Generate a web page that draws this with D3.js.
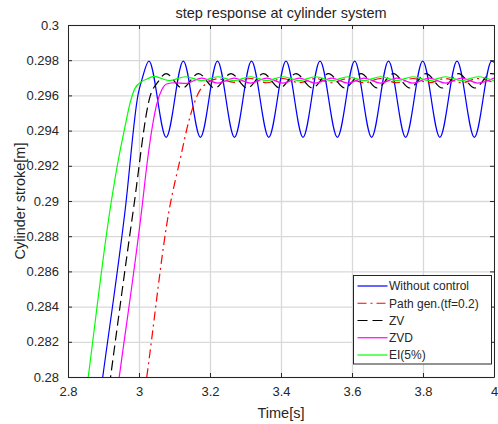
<!DOCTYPE html>
<html>
<head>
<meta charset="utf-8">
<script src="https://cdn.jsdelivr.net/npm/d3@7"></script>
<style>
  body { margin: 0; background: #fff; }
  svg text { font-family: "Liberation Sans", Arial, sans-serif; fill: #262626; }
</style>
</head>
<body>
<div id="chart"></div>
<script>
var width = 498;
var height = 424;
var margin = {left: 68, right: 4, top: 25, bottom: 47};

// tick values + labels
var xTicks = [2.8, 3, 3.2, 3.4, 3.6, 3.8, 4];
var xTickLabels = ["2.8", "3", "3.2", "3.4", "3.6", "3.8", "4"];
var yTicks = [0.28, 0.282, 0.284, 0.286, 0.288, 0.29, 0.292, 0.294, 0.296, 0.298, 0.3];
var yTickLabels = ["0.28", "0.282", "0.284", "0.286", "0.288", "0.29", "0.292", "0.294", "0.296", "0.298", "0.3"];

// series, [time, stroke]
var withoutControl = [[2.880,0.27735],[2.898,0.28002],[2.961,0.28949],[2.998,0.29612],[3.008,0.29688],[3.028,0.29795],
  [3.0765,0.29362],[3.1248,0.29795],[3.1730,0.29362],[3.2211,0.29795],[3.2690,0.29362],[3.3169,0.29795],
  [3.3655,0.29362],[3.4141,0.29795],[3.4620,0.29362],[3.5099,0.29795],[3.5588,0.29362],[3.6076,0.29795],
  [3.6552,0.29362],[3.7028,0.29795],[3.7510,0.29362],[3.7992,0.29795],[3.8475,0.29362],[3.8958,0.29795],
  [3.9447,0.29362],[3.9935,0.29795],[4.0,0.29789]];
var pathGen = [[3.000,0.27679],[3.022,0.28002],[3.085,0.28949],[3.1155,0.29233],[3.1437,0.29479],[3.167,0.29612],
  [3.1907,0.29669],[3.2225,0.29694],[3.2683,0.29674],[3.3141,0.29696],[3.3599,0.29672],[3.4056,0.29696],
  [3.4514,0.29672],[3.4972,0.29696],[3.5430,0.29672],[3.5887,0.29696],[3.6345,0.29672],[3.6803,0.29696],
  [3.7261,0.29672],[3.7718,0.29696],[3.8176,0.29672],[3.8634,0.29696],[3.9092,0.29672],[3.9549,0.29696],[4.0,0.29672]];
var zv = [[2.900,0.27700],[2.920,0.28002],[2.984,0.28949],[3.031,0.29593],[3.054,0.29678],[3.0761,0.29724],
  [3.1218,0.29642],[3.1676,0.29724],[3.2134,0.29642],[3.2592,0.29724],[3.3049,0.29642],[3.3507,0.29724],
  [3.3965,0.29642],[3.4423,0.29724],[3.4880,0.29642],[3.5338,0.29724],[3.5796,0.29642],[3.6254,0.29724],
  [3.6711,0.29642],[3.7169,0.29724],[3.7627,0.29642],[3.8085,0.29724],[3.8542,0.29642],[3.9000,0.29724],
  [3.9458,0.29642],[3.9916,0.29724],[4.0,0.29722]];
var zvd = [[2.925,0.27710],[2.9445,0.28002],[3.0076,0.28949],[3.024,0.29233],[3.0375,0.29422],[3.0505,0.29555],
  [3.0639,0.29631],[3.078,0.29665],[3.101,0.29672],[3.131,0.29668],[3.1768,0.29698],[3.2225,0.29670],
  [3.2683,0.29698],[3.3141,0.29670],[3.3599,0.29698],[3.4056,0.29670],[3.4514,0.29698],[3.4972,0.29670],
  [3.5430,0.29698],[3.5887,0.29670],[3.6345,0.29698],[3.6803,0.29670],[3.7261,0.29698],[3.7718,0.29670],
  [3.8176,0.29698],[3.8634,0.29670],[3.9092,0.29698],[3.9549,0.29670],[4.0,0.29698]];
var ei = [[2.840,0.27733],[2.857,0.28000],[2.9183,0.28949],[2.9417,0.29233],[2.9606,0.29422],[2.9746,0.29555],
  [2.9887,0.29640],[3.0076,0.29678],[3.0225,0.29693],[3.042,0.29708],[3.0852,0.29684],[3.1310,0.29706],
  [3.1768,0.29684],[3.2225,0.29706],[3.2683,0.29684],[3.3141,0.29706],[3.3599,0.29684],[3.4056,0.29706],
  [3.4514,0.29684],[3.4972,0.29706],[3.5430,0.29684],[3.5887,0.29706],[3.6345,0.29684],[3.6803,0.29706],
  [3.7261,0.29684],[3.7718,0.29706],[3.8176,0.29684],[3.8634,0.29706],[3.9092,0.29684],[3.9549,0.29706],[4.0,0.29684]];

var seriesNames = ["Without control", "Path gen.(tf=0.2)", "ZV", "ZVD", "EI(5%)"];
var seriesColors = ["#0000ff", "#ff0000", "#000000", "#ff00ff", "#00ff00"];
var seriesDash = [null, "9,4,2,4", "10,5", null, null];
var seriesData = [withoutControl, pathGen, zv, zvd, ei];

var x = d3.scaleLinear().domain([2.8, 4]).range([margin.left, width - margin.right]);
var y = d3.scaleLinear().domain([0.28, 0.3]).range([height - margin.bottom, margin.top]);
var x0 = x.range()[0], x1 = x.range()[1], y0 = y.range()[1], y1 = y.range()[0];

var svg = d3.select("#chart").append("svg")
  .attr("width", width)
  .attr("height", height);

svg.append("defs").append("clipPath").attr("id", "plotclip")
  .append("rect").attr("x", x0).attr("y", y0).attr("width", x1 - x0).attr("height", y1 - y0);

// grid
var grid = svg.append("g").attr("class", "grid");
grid.append("g").attr("transform", "translate(0," + y1 + ")")
  .call(d3.axisBottom(x).tickValues(xTicks).tickSize(-(y1 - y0)).tickFormat(""));
grid.append("g").attr("transform", "translate(" + x0 + ",0)")
  .call(d3.axisLeft(y).tickValues(yTicks).tickSize(-(x1 - x0)).tickFormat(""));
grid.selectAll("line").attr("stroke", "#d9d9d9").attr("stroke-width", 1.3);
grid.selectAll(".domain").remove();

// curves
var line = d3.line()
  .x(function(d) { return x(d[0]); })
  .y(function(d) { return y(d[1]); })
  .curve(d3.curveMonotoneX);

var plot = svg.append("g").attr("clip-path", "url(#plotclip)");
seriesData.forEach(function(s, i) {
  plot.append("path")
    .datum(s)
    .attr("d", line)
    .attr("fill", "none")
    .attr("stroke", seriesColors[i])
    .attr("stroke-width", 1.2)
    .attr("stroke-dasharray", seriesDash[i]);
});

// axes, ticks inside on all four sides
var axisColor = "#262626";
var axBottom = svg.append("g").attr("transform", "translate(0," + y1 + ")")
  .call(d3.axisBottom(x).tickValues(xTicks).tickSizeInner(-4).tickSizeOuter(0).tickPadding(10)
    .tickFormat(function(d, i) { return xTickLabels[i]; }));
var axLeft = svg.append("g").attr("transform", "translate(" + x0 + ",0)")
  .call(d3.axisLeft(y).tickValues(yTicks).tickSizeInner(-4).tickSizeOuter(0).tickPadding(9)
    .tickFormat(function(d, i) { return yTickLabels[i]; }));
var axTop = svg.append("g").attr("transform", "translate(0," + y0 + ")")
  .call(d3.axisTop(x).tickValues(xTicks).tickSizeInner(-4).tickSizeOuter(0).tickFormat(""));
var axRight = svg.append("g").attr("transform", "translate(" + x1 + ",0)")
  .call(d3.axisRight(y).tickValues(yTicks).tickSizeInner(-4).tickSizeOuter(0).tickFormat(""));

[axBottom, axLeft, axTop, axRight].forEach(function(g) {
  g.selectAll("path, line").attr("stroke", axisColor).attr("stroke-width", 1);
  g.selectAll("text").attr("font-size", 13).attr("fill", axisColor)
    .style("font-family", "'Liberation Sans', Arial, sans-serif");
});

// title and labels
svg.append("text")
  .attr("x", (x0 + x1) / 2).attr("y", 18)
  .attr("text-anchor", "middle").attr("font-size", 14.5)
  .text("step response at cylinder system");
svg.append("text")
  .attr("x", (x0 + x1) / 2).attr("y", 418)
  .attr("text-anchor", "middle").attr("font-size", 14.5)
  .text("Time[s]");
svg.append("text")
  .attr("transform", "translate(25," + ((y0 + y1) / 2) + ") rotate(-90)")
  .attr("text-anchor", "middle").attr("font-size", 14.5)
  .text("Cylinder stroke[m]");

// legend
var legend = svg.append("g").attr("transform", "translate(353.5,275.5)");
legend.append("rect")
  .attr("width", 138).attr("height", 88.5)
  .attr("fill", "#fff").attr("stroke", axisColor).attr("stroke-width", 1);
seriesNames.forEach(function(name, i) {
  var ly = 10.5 + i * 17.25;
  legend.append("line")
    .attr("x1", 4).attr("x2", 34).attr("y1", ly).attr("y2", ly)
    .attr("stroke", seriesColors[i]).attr("stroke-width", 1.2)
    .attr("stroke-dasharray", seriesDash[i]);
  legend.append("text")
    .attr("x", 35.5).attr("y", ly + 4.3)
    .attr("font-size", 12)
    .text(name);
});
</script>
</body>
</html>
